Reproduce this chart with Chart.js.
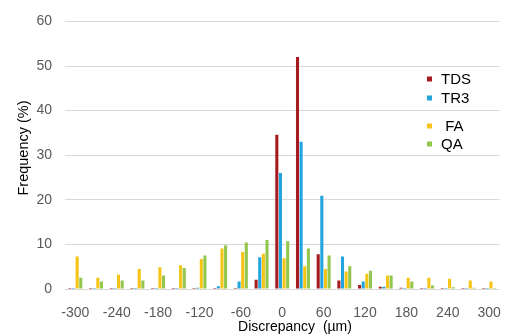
<!DOCTYPE html>
<html>
<head>
<meta charset="utf-8">
<script src="https://cdn.jsdelivr.net/npm/chart.js@4.4.0/dist/chart.umd.min.js"></script>
<style>
  html, body { margin: 0; padding: 0; background: #fff; }
</style>
</head>
<body>
<canvas id="chart" width="509" height="336"></canvas>
<script>
// Discrepancy bins (µm)
const categories = [-300, -270, -240, -210, -180, -150, -120, -90, -60, -30, 0,
                    30, 60, 90, 120, 150, 180, 210, 240, 270, 300];

// Frequency (%) per method
const tds = [0.2, 0.2, 0.2, 0.2, 0.2, 0.2, 0.2, 0.2, 0.2, 2.1, 34.6,
             52.0, 7.8, 1.9, 0.9, 0.5, 0.3, 0.2, 0.2, 0.2, 0.2];
const tr3 = [0.2, 0.2, 0.2, 0.2, 0.2, 0.2, 0.3, 0.6, 1.7, 7.1, 26.0,
             33.0, 20.9, 7.3, 1.7, 0.5, 0.2, 0.2, 0.2, 0.2, 0.2];
const fa  = [7.3, 2.5, 3.2, 4.5, 4.9, 5.3, 6.7, 9.1, 8.3, 7.9, 6.9,
             5.1, 4.5, 3.9, 3.4, 3.0, 2.5, 2.5, 2.3, 1.9, 1.7];
const qa  = [2.5, 1.7, 1.9, 1.9, 3.0, 4.7, 7.5, 9.8, 10.4, 11.0, 10.7,
             9.1, 7.5, 5.1, 4.1, 3.0, 1.7, 0.8, 0.4, 0.3, 0.2];

const seriesNames = ["TDS", "TR3", " FA", "QA"];
const xTitle = "Discrepancy  (\u00b5m)";
const yTitle = "Frequency (%)";

const FONT = "'Liberation Sans', Arial, sans-serif";
Chart.defaults.font.family = FONT;

// legend + axis titles, placed like the original figure
const annotate = {
  id: "annotate",
  afterDraw(chart) {
    const ctx = chart.ctx;
    ctx.save();
    ctx.fillStyle = "#000";
    ctx.textBaseline = "middle";

    ctx.font = "14px " + FONT;
    ctx.textAlign = "center";
    ctx.fillText(xTitle, 295, 327);

    ctx.save();
    ctx.translate(24, 148);
    ctx.rotate(-Math.PI / 2);
    ctx.font = "14.5px " + FONT;
    ctx.fillText(yTitle, 0, 0);
    ctx.restore();

    const rows = [79, 98, 126, 144];
    ctx.font = "15px " + FONT;
    ctx.textAlign = "left";
    chart.data.datasets.forEach((ds, i) => {
      ctx.fillStyle = ds.backgroundColor;
      ctx.fillRect(427, rows[i] - 2.5, 5, 5);
      ctx.fillStyle = "#000";
      ctx.fillText(ds.label, 441, rows[i] + 1);
    });
    ctx.restore();
  }
};

new Chart(document.getElementById("chart"), {
  type: "bar",
  data: {
    labels: categories,
    datasets: [
      { label: seriesNames[0], data: tds, backgroundColor: "#a51b1f" },
      { label: seriesNames[1], data: tr3, backgroundColor: "#22a5de" },
      { label: seriesNames[2], data: fa,  backgroundColor: "#f5c416" },
      { label: seriesNames[3], data: qa,  backgroundColor: "#92c64c" }
    ]
  },
  options: {
    responsive: false,
    animation: false,
    layout: { padding: { top: 21, right: 7, left: 0, bottom: 0 } },
    datasets: { bar: { categoryPercentage: 0.7, barPercentage: 0.85 } },
    plugins: {
      legend: { display: false },
      tooltip: { enabled: false }
    },
    scales: {
      x: {
        grid: { display: false },
        border: { display: false },
        ticks: {
          autoSkip: false,
          maxRotation: 0,
          padding: 8,
          color: "#595959",
          font: { size: 14 },
          callback: (v, i) => (i % 2 === 0 ? categories[i] : "")
        },
        afterFit: s => { s.height = 47; }
      },
      y: {
        min: 0,
        max: 60,
        grid: { color: "#d9d9d9", drawTicks: false },
        border: { display: false },
        ticks: {
          stepSize: 10,
          padding: 13,
          color: "#595959",
          font: { size: 14 }
        },
        afterFit: s => { s.width = 65; }
      }
    }
  },
  plugins: [annotate]
});
</script>
</body>
</html>
